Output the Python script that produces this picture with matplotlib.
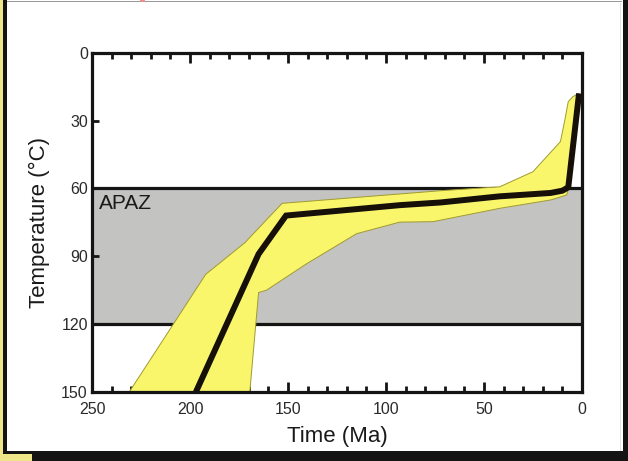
import matplotlib
matplotlib.use('Agg')
import matplotlib.pyplot as plt
from matplotlib.patches import Rectangle, Polygon
from matplotlib.ticker import MultipleLocator

plt.rcParams['font.family'] = ['Liberation Sans', 'DejaVu Sans']

# ---- data ----
path_time = [197, 165, 151, 93, 72, 42, 16, 10, 7, 1.5]
path_temp = [150, 89, 72, 67.4, 66.2, 63.5, 62, 61, 59.5, 18]

env_cool_time = [231, 192, 172, 160, 153, 72, 42, 25, 11, 8.7, 7, 4.6, 1.5]
env_cool_temp = [150, 98, 84, 73, 66.6, 61, 59.3, 52.6, 39.3, 29.5, 21.6, 19.4, 18]
env_hot_time = [1.5, 7, 7.8, 16, 42, 76, 93, 115, 140.5, 161, 165, 169.5]
env_hot_temp = [18, 60, 62.9, 65.1, 68.8, 74.7, 74.9, 80, 93.3, 105, 106, 150]

apaz_top, apaz_bottom = 60, 120
x_ticks = [250, 200, 150, 100, 50, 0]
y_ticks = [0, 30, 60, 90, 120, 150]

W, H = 628, 461
fig = plt.figure(figsize=(W / 100, H / 100), dpi=100)
fig.patch.set_facecolor('white')

def frect(x0, y0, x1, y1, color):
    fig.patches.append(Rectangle((x0 / W, 1 - y1 / H), (x1 - x0) / W, (y1 - y0) / H,
                                 transform=fig.transFigure, facecolor=color,
                                 edgecolor='none', zorder=0))

# outer frame decoration
frect(0, 0, 3.5, 461, '#efe68a')
frect(3.5, 0, 7, 454, '#141414')
frect(7, 1, 622, 2.5, '#9a9a9a')
frect(619.5, 3, 620.5, 452, '#e4e4e4')
frect(623, 0, 628, 461, '#141414')
frect(32, 451, 628, 461, '#141414')
frect(3.5, 451, 32, 454, '#141414')
frect(0, 454, 32, 461, '#efe68a')
frect(140, 0, 145, 2.5, '#e89090')

ax = fig.add_axes([92 / W, 1 - 392 / H, 490 / W, 339.3 / H])
ax.set_xlim(250, 0)
ax.set_ylim(150, 0)
ax.set_facecolor('white')

# APAZ band
ax.axhspan(apaz_top, apaz_bottom, facecolor='#c3c3c1', edgecolor='none', zorder=1)
ax.axhline(apaz_top, color='#141414', lw=2.3, zorder=2)
ax.axhline(apaz_bottom, color='#141414', lw=2.3, zorder=2)

# envelope
env = list(zip(env_cool_time, env_cool_temp)) + list(zip(env_hot_time, env_hot_temp))
ax.add_patch(Polygon(env, closed=True, facecolor='#f9f66c', edgecolor='#a09a30',
                     lw=0.7, zorder=3))

# best-fit path
ax.plot(path_time, path_temp, color='#171008', lw=4.3, zorder=4,
        solid_joinstyle='miter', solid_capstyle='butt')

ax.text(246.5, 66.5, 'APAZ', fontsize=15, color='#1a1a1a', va='center', ha='left', zorder=5)

for s in ax.spines.values():
    s.set_linewidth(2.3)
    s.set_color('#141414')
    s.set_zorder(6)

ax.set_xticks(x_ticks)
ax.xaxis.set_minor_locator(MultipleLocator(10))
ax.set_yticks(y_ticks)
ax.tick_params(axis='x', which='major', direction='in', top=True, bottom=True,
               length=7, width=2, color='#141414', labelsize=11.5, pad=7,
               labelcolor='#2a2a2a')
ax.tick_params(axis='x', which='minor', direction='in', top=True, bottom=True,
               length=4.5, width=2, color='#141414')
ax.tick_params(axis='y', which='major', direction='in', left=True, right=False,
               length=5, width=2, color='#141414', labelsize=11.5, pad=3,
               labelcolor='#2a2a2a')
for t in ax.get_xticklines() + ax.get_yticklines():
    t.set_zorder(6)

ax.set_xlabel('Time (Ma)', fontsize=16, color='#1a1a1a', labelpad=7)
ax.set_ylabel('Temperature (°C)', fontsize=16, color='#1a1a1a', labelpad=8)

fig.savefig('out.png', dpi=100)
